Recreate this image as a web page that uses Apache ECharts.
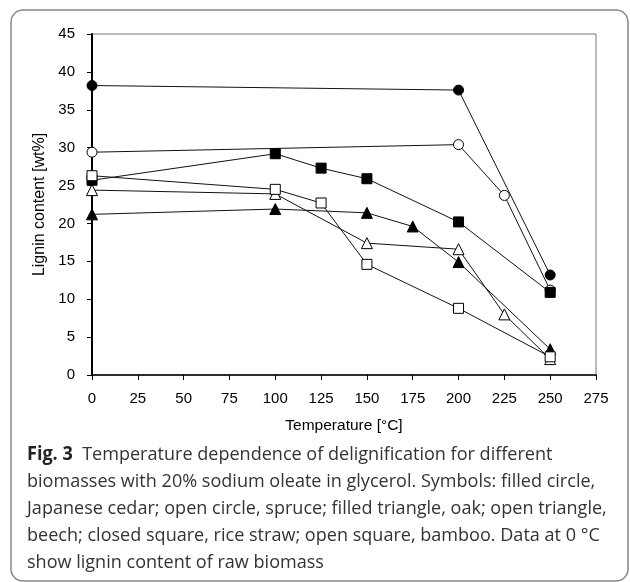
<!DOCTYPE html>
<html>
<head>
<meta charset="utf-8">
<script src="https://cdn.jsdelivr.net/npm/echarts@6/dist/echarts.min.js"></script>
<style>
  html, body { margin: 0; padding: 0; background: #fff; }
  #chart { width: 630px; height: 582px; }
</style>
</head>
<body>
<div id="chart"></div>
<script>
// temperatures (°C) and lignin content (wt%) per biomass
const cedarT = [0, 200, 250];
const cedar = [38.2, 37.6, 13.2];
const spruceT = [0, 200, 225, 250];
const spruce = [29.4, 30.4, 23.7, 11.2];
const oakT = [0, 100, 150, 175, 200, 250];
const oak = [21.2, 21.9, 21.4, 19.6, 14.9, 3.4];
const beechT = [0, 100, 150, 200, 225, 250];
const beech = [24.4, 23.9, 17.4, 16.6, 8.0, 2.1];
const riceT = [0, 100, 125, 150, 200, 250];
const rice = [25.7, 29.2, 27.3, 25.9, 20.2, 10.9];
const bambooT = [0, 100, 125, 150, 200, 250];
const bamboo = [26.3, 24.5, 22.7, 14.6, 8.8, 2.4];

const captionLines = [
  '{b|Fig. 3}  Temperature dependence of delignification for different',
  'biomasses with 20% sodium oleate in glycerol. Symbols: filled circle,',
  'Japanese cedar; open circle, spruce; filled triangle, oak; open triangle,',
  'beech; closed square, rice straw; open square, bamboo. Data at 0 °C',
  'show lignin content of raw biomass'
];

const zip = (xs, ys) => xs.map((x, i) => [x, ys[i]]);

function makeSeries(name, xs, ys, symbol, filled) {
  return {
    name,
    type: 'line',
    data: zip(xs, ys),
    symbol,
    symbolSize: symbol === 'triangle' ? 11 : 10,
    showAllSymbol: true,
    lineStyle: { color: '#111', width: 1 },
    itemStyle: { color: filled ? '#000' : '#fff', borderColor: '#000', borderWidth: 1 },
    emphasis: { disabled: true },
    animation: false
  };
}

const chart = echarts.init(document.getElementById('chart'));

const font = 'Arial, "Liberation Sans", sans-serif';
const capFont = '"Open Sans", sans-serif';

chart.setOption({
  animation: false,
  grid: {
    left: 92, right: 34, top: 34, bottom: 207,
    show: true, borderColor: '#777', borderWidth: 1
  },
  xAxis: {
    type: 'value', min: 0, max: 275, interval: 25,
    name: 'Temperature [°C]', nameLocation: 'middle', nameGap: 43,
    nameTextStyle: { color: '#000', fontSize: 15.5, fontFamily: font },
    axisLine: { lineStyle: { color: '#000', width: 1.5 } },
    axisTick: { length: 5, lineStyle: { color: '#000' } },
    axisLabel: { color: '#000', fontSize: 15, fontFamily: font, margin: 16 },
    splitLine: { show: false }
  },
  yAxis: {
    type: 'value', min: 0, max: 45, interval: 5,
    name: 'Lignin content [wt%]', nameLocation: 'middle', nameGap: 40,
    nameTextStyle: { color: '#000', fontSize: 16, fontFamily: font },
    axisLine: { show: true, lineStyle: { color: '#000', width: 2 } },
    axisTick: { show: true, length: 5, lineStyle: { color: '#000' } },
    axisLabel: { color: '#000', fontSize: 15, fontFamily: font, margin: 17 },
    splitLine: { show: false }
  },
  series: [
    makeSeries('spruce', spruceT, spruce, 'circle', false),
    makeSeries('Japanese cedar', cedarT, cedar, 'circle', true),
    makeSeries('beech', beechT, beech, 'triangle', false),
    makeSeries('oak', oakT, oak, 'triangle', true),
    makeSeries('rice straw', riceT, rice, 'rect', true),
    makeSeries('bamboo', bambooT, bamboo, 'rect', false)
  ],
  graphic: [
    {
      type: 'rect', z: -1,
      shape: { x: 11, y: 10, width: 617, height: 571, r: 12 },
      style: { fill: 'none', stroke: '#888', lineWidth: 1.5 }
    }
  ].concat(captionLines.map((line, i) => ({
    type: 'text',
    x: 27, y: 455 + i * 27,
    scaleX: 0.95,
    style: {
      text: line,
      fontFamily: capFont,
      fontSize: 19,
      fill: '#333',
      verticalAlign: 'middle',
      rich: {
        b: { fontWeight: 'bold', fill: '#222', fontSize: 19, fontFamily: capFont }
      }
    }
  })))
});
</script>
</body>
</html>
